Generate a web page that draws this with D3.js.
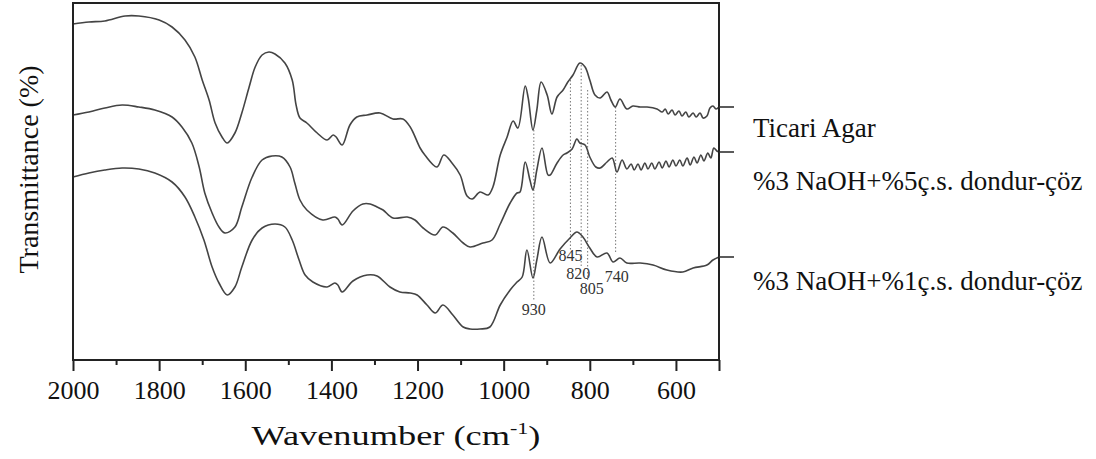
<!DOCTYPE html>
<html>
<head>
<meta charset="utf-8">
<script src="https://cdn.jsdelivr.net/npm/d3@7"></script>
<style>
  html, body { margin: 0; padding: 0; background: #fff; }
  svg { display: block; }
  text { font-family: "Liberation Serif", "Times New Roman", serif; fill: #111; }
</style>
</head>
<body>
<svg id="chart" width="1096" height="459"></svg>
<script>
// ---------- data (wavenumber cm-1, transmittance a.u.) ----------
const seriesNames = ["Ticari Agar", "%3 NaOH+%5ç.s. dondur-çöz", "%3 NaOH+%1ç.s. dondur-çöz"];

const ticariAgar = [
  [2000,336],[1963,338],[1926,339],[1879,344],[1847,344],[1800,340],[1770,333],[1740,320],[1717,303],
  [1700,280],[1684,260],[1670,237],[1654,223],[1642,217],[1624,227],[1608,247],[1591,273],[1577,293],
  [1561,305],[1545,308],[1531,306],[1508,297],[1491,280],[1482,255],[1473,242],[1457,237],[1433,227],
  [1410,220],[1396,225],[1389,223],[1375,215],[1357,235],[1341,243],[1317,245],[1287,247],[1257,241],
  [1234,241],[1217,233],[1194,212],[1183,205],[1155,193],[1139,205],[1120,197],[1101,185],[1085,164],
  [1073,161],[1055,168],[1036,165],[1025,173],[1008,205],[992,223],[978,239],[967,232],[950,274],
  [943,262],[932,230],[923,250],[913,278],[899,265],[888,246],[876,263],[862,270],[851,278],[839,285],
  [823,297],[811,293],[800,280],[788,265],[776,262],[760,268],[751,260],[741,253],[730,261],[714,251],
  [700,254],[683,253],[667,253],[644,251],[632,248],[625,251],[618,246],[609,250],[602,245],[593,249],
  [586,244],[577,248],[570,243],[560,247],[553,243],[544,247],[537,242],[528,244],[521,252],[514,254],
  [507,251],[500,253]
];

const naoh5 = [
  [2000,245],[1963,248],[1926,252],[1886,255],[1847,253],[1810,250],[1770,243],[1747,233],[1724,217],
  [1707,193],[1694,167],[1677,147],[1661,133],[1647,127],[1624,133],[1608,153],[1584,183],[1561,200],
  [1538,204],[1515,203],[1496,193],[1485,177],[1473,160],[1457,150],[1420,140],[1392,143],[1385,141],
  [1375,135],[1350,149],[1327,156],[1310,156],[1294,153],[1280,150],[1257,142],[1224,143],[1206,140],
  [1187,132],[1159,125],[1141,133],[1118,127],[1094,117],[1078,113],[1048,117],[1027,120],[1008,136],
  [985,157],[969,167],[962,168],[950,198],[939,180],[932,170],[923,190],[911,212],[897,185],[892,185],
  [876,197],[862,205],[853,207],[841,211],[830,221],[823,217],[811,215],[800,203],[786,193],[776,192],
  [760,198],[748,202],[737,188],[725,200],[714,191],[704,196],[697,190],[688,196],[681,190],[672,197],
  [665,191],[656,197],[649,191],[639,198],[632,192],[623,199],[616,193],[607,200],[600,194],[591,200],
  [584,194],[574,202],[567,195],[558,203],[551,197],[542,205],[535,199],[526,207],[519,202],[512,212],
  [505,209],[500,208]
];

const naoh1 = [
  [2000,183],[1963,187],[1926,190],[1886,192],[1847,191],[1810,187],[1770,178],[1740,163],[1717,143],
  [1696,120],[1677,93],[1661,77],[1642,65],[1624,73],[1608,93],[1584,120],[1561,132],[1531,136],
  [1508,133],[1491,120],[1475,100],[1461,85],[1443,78],[1410,73],[1392,77],[1385,75],[1375,68],
  [1350,79],[1317,85],[1294,84],[1264,73],[1241,68],[1217,67],[1201,65],[1178,55],[1159,47],[1141,55],
  [1118,45],[1094,33],[1078,31],[1055,31],[1032,33],[1008,55],[985,70],[969,78],[957,83],[946,110],
  [932,82],[923,100],[911,123],[892,97],[869,111],[846,122],[830,128],[816,123],[800,112],[783,103],
  [760,107],[746,98],[730,102],[714,97],[683,97],[653,95],[621,90],[584,88],[560,92],[528,95],[514,100],
  [500,103]
];

const xTickValues = [2000, 1800, 1600, 1400, 1200, 1000, 800, 600];
const xMinorTickValues = [1900, 1700, 1500, 1300, 1100, 900, 700, 500];

// marked bands: wavenumber, top and bottom of dotted guide (a.u.), label level (a.u.)
const markBands   = [930, 845, 820, 805, 740];
const markTop     = [230, 280, 295, 270, 253];
const markBottom  = [60, 110, 93, 80, 107];
const markLabelAt = [45, 99, 81, 66, 78];
const markLabelDx = [0, 0, -3, 4, 1];

// ---------- layout ----------
const svg = d3.select("#chart");
const L = 73, R = 719, T = 3, B = 360;
const fontSerif = '"Liberation Serif", "Times New Roman", serif';

const x = d3.scaleLinear().domain([2000, 500]).range([L, R]);
const y = d3.scaleLinear().domain([0, 357]).range([B, T]);

const line = d3.line()
  .x(d => x(d[0]))
  .y(d => y(d[1]))
  .curve(d3.curveCatmullRom.alpha(0.5));

const allSeries = [ticariAgar, naoh5, naoh1];

// dotted guides + labels
const g = svg.append("g");
markBands.forEach((w, i) => {
  g.append("line")
    .attr("x1", x(w)).attr("x2", x(w))
    .attr("y1", y(markTop[i])).attr("y2", y(markBottom[i]))
    .attr("stroke", "#777").attr("stroke-width", 1)
    .attr("stroke-dasharray", "1.5,2");
  g.append("text")
    .attr("x", x(w) + markLabelDx[i])
    .attr("y", y(markLabelAt[i]))
    .attr("text-anchor", "middle")
    .style("font-size", "16px")
    .style("fill", "#333")
    .text(w);
});

allSeries.forEach(s => {
  svg.append("path")
    .datum(s)
    .attr("d", line)
    .attr("fill", "none")
    .attr("stroke", "#444")
    .attr("stroke-width", 1.6)
    .attr("stroke-linejoin", "round");
});

// frame
svg.append("rect")
  .attr("x", L).attr("y", T).attr("width", R - L).attr("height", B - T)
  .attr("fill", "none").attr("stroke", "#222").attr("stroke-width", 2);

// bottom axis
const axisMajor = d3.axisBottom(x).tickValues(xTickValues).tickSize(11).tickPadding(10)
  .tickFormat(d3.format("d"));
const axG = svg.append("g").attr("transform", `translate(0,${B})`).call(axisMajor);
axG.select(".domain").remove();
axG.selectAll(".tick line").attr("stroke", "#222").attr("stroke-width", 2);
axG.selectAll(".tick text")
  .style("font-family", fontSerif).style("font-size", "26px").attr("fill", "#111");

const axisMinor = d3.axisBottom(x).tickValues(xMinorTickValues).tickSize(5).tickFormat("");
const axMin = svg.append("g").attr("transform", `translate(0,${B})`).call(axisMinor);
axMin.select(".domain").remove();
axMin.selectAll(".tick line").attr("stroke", "#222").attr("stroke-width", 2);
axMin.selectAll(".tick").filter(d => d === 500).select("line").attr("y2", 11);

// right-side series markers
allSeries.forEach(s => {
  const last = s[s.length - 1];
  svg.append("line")
    .attr("x1", x(last[0])).attr("x2", x(last[0]) + 15)
    .attr("y1", y(last[1])).attr("y2", y(last[1]))
    .attr("stroke", "#333").attr("stroke-width", 1.6);
});

// legend labels
const legendY = [137, 190, 290];
seriesNames.forEach((n, i) => {
  svg.append("text")
    .attr("x", 753).attr("y", legendY[i])
    .style("font-size", "27px")
    .text(n);
});

// axis titles
const xt = svg.append("text")
  .attr("x", (L + R) / 2).attr("y", 445)
  .attr("text-anchor", "middle")
  .attr("textLength", 289)
  .attr("lengthAdjust", "spacingAndGlyphs")
  .style("font-size", "28px");
xt.append("tspan").text("Wavenumber (cm");
xt.append("tspan").attr("dy", -11).style("font-size", "17px").text("-1");
xt.append("tspan").attr("dy", 11).text(")");

svg.append("text")
  .attr("transform", `translate(38,${(T + B) / 2 - 12}) rotate(-90)`)
  .attr("text-anchor", "middle")
  .style("font-size", "28px")
  .text("Transmittance (%)");
</script>
</body>
</html>
